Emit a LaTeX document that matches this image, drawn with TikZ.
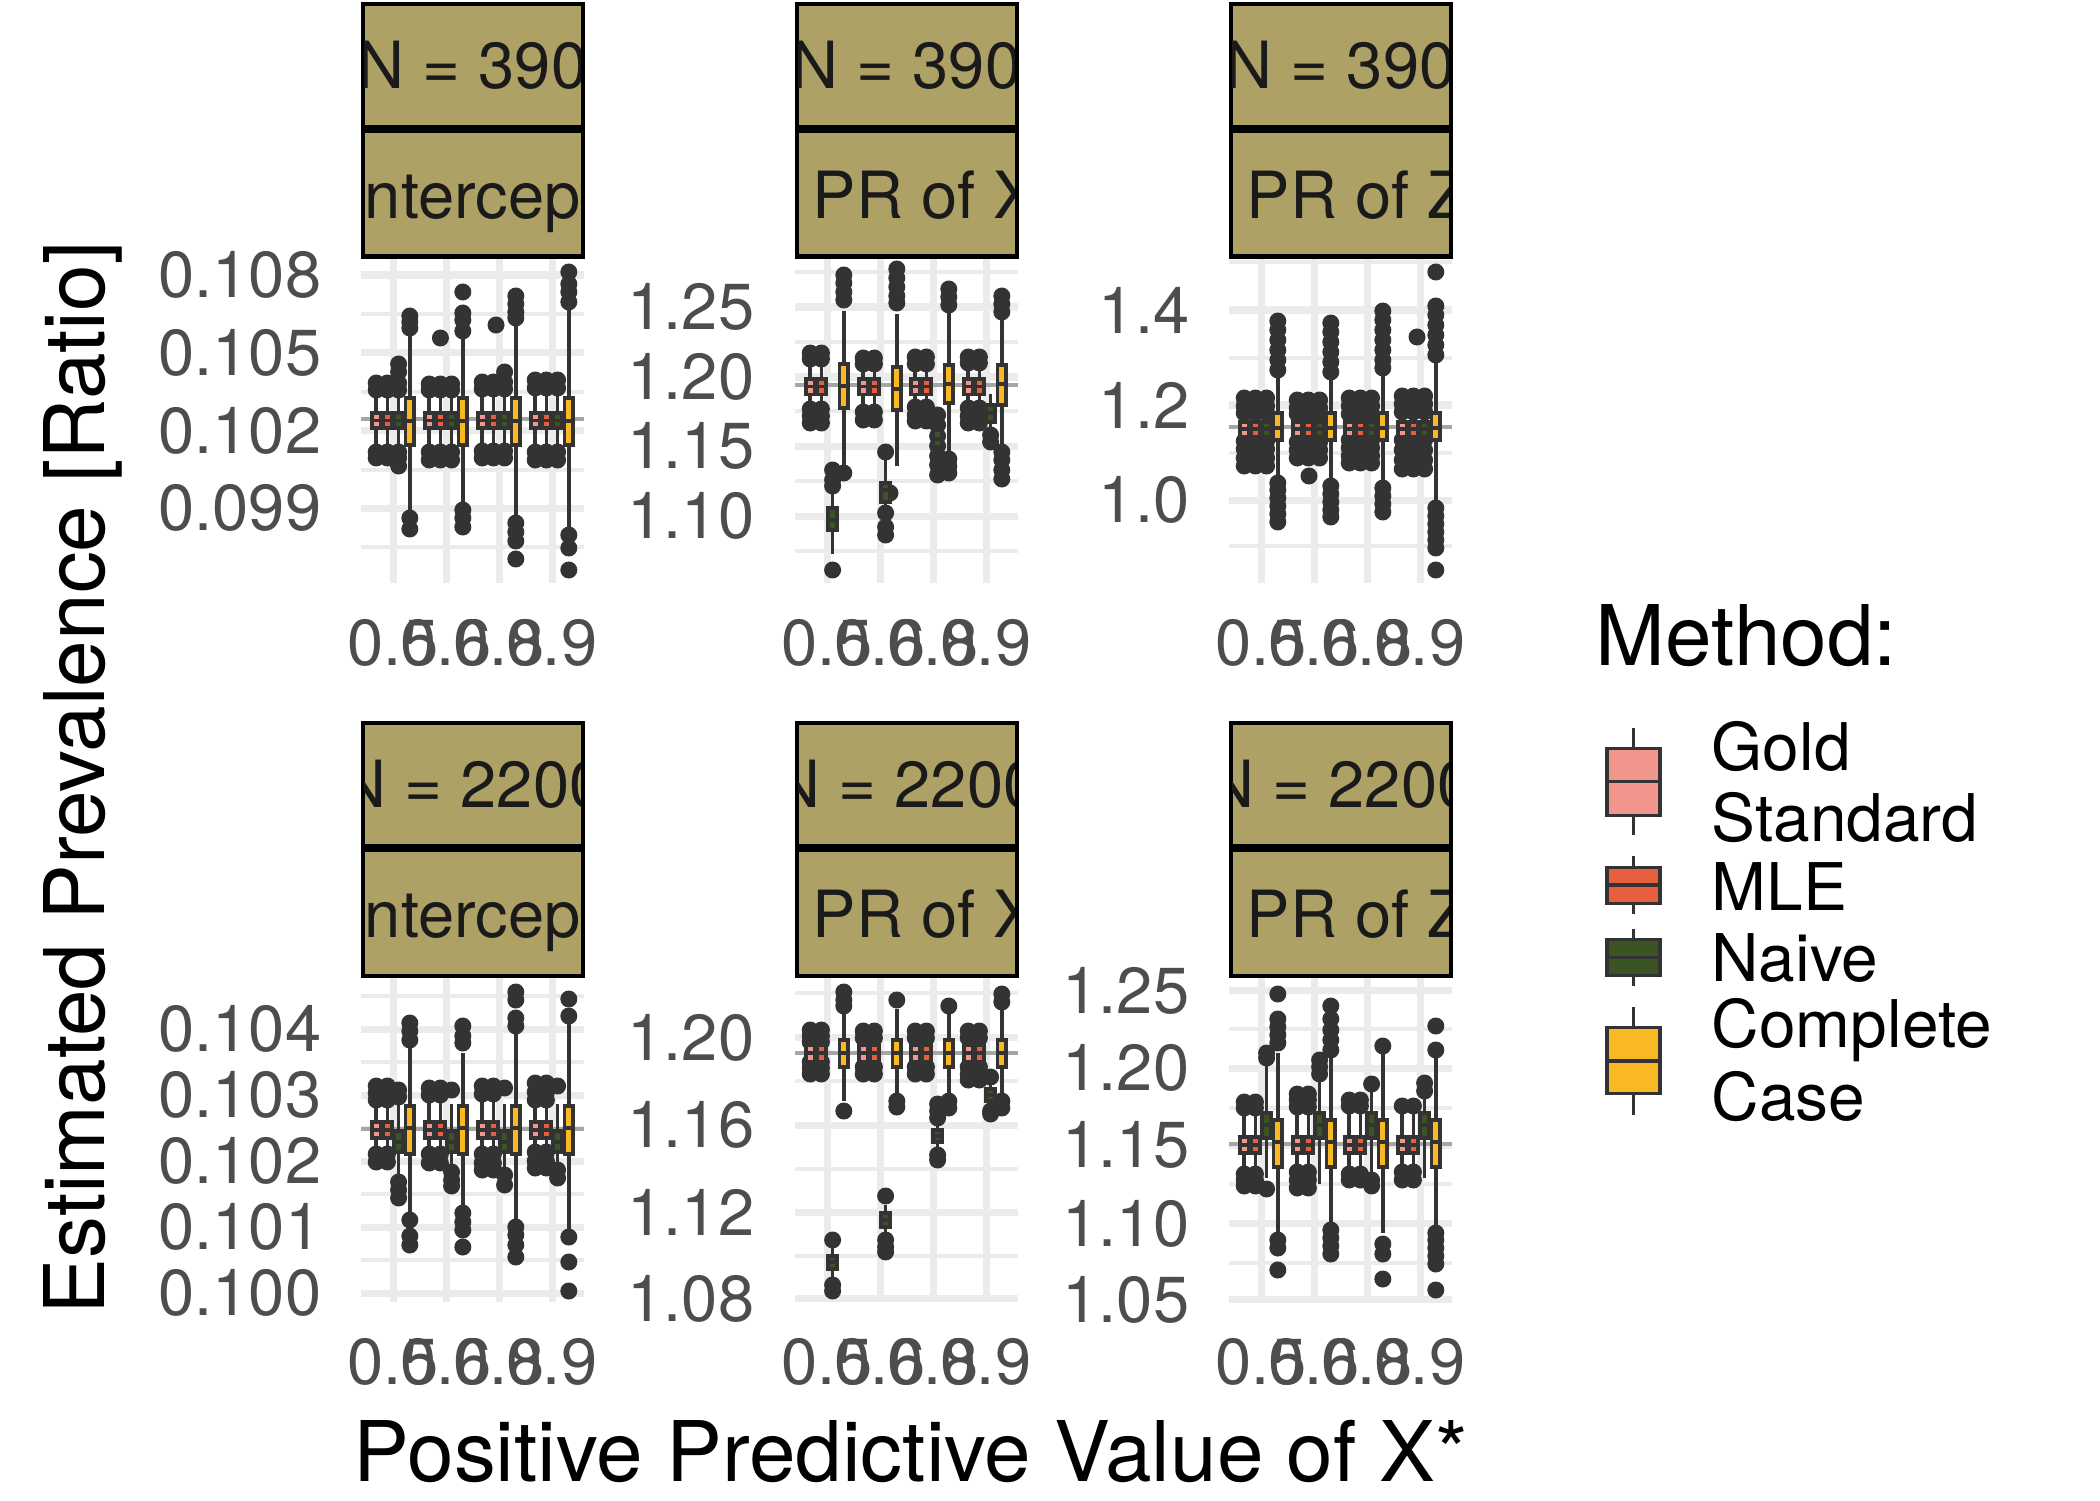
\documentclass[tikz,border=0pt]{standalone}
\usepackage{fontspec}
\setmainfont{TeX Gyre Heros}
\definecolor{stripfill}{HTML}{AEA165}
\definecolor{gridc}{HTML}{EBEBEB}
\definecolor{refc}{HTML}{A6A6A6}
\definecolor{darkc}{HTML}{333333}
\definecolor{tickc}{HTML}{4D4D4D}
\definecolor{stripc}{HTML}{1A1A1A}
\definecolor{gsc}{HTML}{F0968C}
\definecolor{mlec}{HTML}{E85F40}
\definecolor{nvc}{HTML}{3A5523}
\definecolor{ccc}{HTML}{FAB923}
\begin{document}
\begin{tikzpicture}[x=0.01cm,y=-0.01cm,
  major/.style={gridc,line width=0.07cm},
  minor/.style={gridc,line width=0.04cm},
  refline/.style={refc,line width=0.04cm},
  whisk/.style={darkc,line width=0.037cm},
  boxs/.style={draw=darkc,line width=0.037cm},
  outl/.style={fill=darkc},
  stripbox/.style={draw=black,line width=0.04cm,fill=stripfill},
  striplab/.style={text=stripc,inner sep=0,font=\fontsize{18.5}{18.5}\selectfont},
  ticklab/.style={text=tickc,inner sep=0,font=\fontsize{18.5}{18.5}\selectfont},
  keylab/.style={inner sep=0,anchor=base west,font=\fontsize{18.7}{18.7}\selectfont},
  title/.style={inner sep=0,anchor=base,font=\fontsize{23.8}{23.8}\selectfont}]
\def\W{4.3}
\def\bxp#1#2#3#4#5#6#7{
  \draw[whisk] (#2,#3) -- (#2,#7);
  \draw[boxs,fill=#1] (#2-\W,#4) rectangle (#2+\W,#6);
  \draw[boxs] (#2-\W,#5) -- (#2+\W,#5);}
\def\pts#1#2{\foreach \p in {#2} {\fill[outl] (#1,\p) circle[radius=0.085cm];}}
\def\trio#1#2{\foreach \dx in {-16.8,-5.6,5.6} {\pts{#1+\dx}{#2}}}
\def\duo#1#2{\foreach \dx in {-16.8,-5.6} {\pts{#1+\dx}{#2}}}
\def\grp#1#2#3#4{\foreach \dx/\fc/\wt/\qt/\md/\qb/\wb in {-16.8/gsc/#2,-5.6/mlec/#2,5.6/nvc/#3,16.8/ccc/#4}
  {\bxp{\fc}{#1+\dx}{\wt}{\qt}{\md}{\qb}{\wb}}}

\useasboundingbox (0,0) rectangle (2100,1500);

\foreach \L/\T/\mj/\mn in {
  361/258/{275,352.8,430.6,508.4}/{313.9,391.7,469.5,547.3},
  795/258/{307,377,446,516}/{272,342,411,481,551},
  1229/258/{310,405,500}/{262,358,452.5,546},
  361/977/{1029,1095,1161,1227,1293}/{996,1062,1128,1194,1260},
  795/977/{1037.5,1125,1212.5,1298.5}/{992.5,1081,1169,1256},
  1229/977/{990.5,1068,1145,1223.5,1299.5}/{1029,1108,1184,1263}} {
  \foreach \y in \mn {\draw[minor] (\L,\y) -- (\L+223,\y);}
  \foreach \y in \mj {\draw[major] (\L,\y) -- (\L+223,\y);}
  \foreach \k in {0,...,3} {\draw[major] (\L+32+53*\k,\T) -- (\L+32+53*\k,\T+325);}
}
\foreach \L/\r in {361/419,795/385,1229/427,361/1129,795/1053,1229/1144}
  {\draw[refline] (\L,\r) -- (\L+223,\r);}

\trio{393}{383,390,452,458}
\pts{398.6}{364,372,466}
\pts{409.8}{316,322,328,518,529}
\grp{393}{389/413/420.5/428/451}{389/413/420.5/428/451}{323/398/421/445/513}
\trio{446}{384,390,452,460}
\pts{440.4}{338}
\pts{462.8}{292,313,320,331,510,518,527}
\grp{446}{389/413/420.5/428/451}{389/413/420.5/428/451}{337/398/421/445/507}
\trio{499}{382,389,451,458}
\pts{504.6}{372}
\pts{496}{325}
\pts{515.8}{296,304,312,318,523,532,541,559}
\grp{499}{389/413/420.5/428/451}{389/413/420.5/428/451}{320/398/421/445/520}
\trio{552}{380,388,452,460}
\pts{568.8}{272,284,292,302,535,548,570}
\grp{552}{389/413/420.5/428/451}{389/413/420.5/428/451}{306/398/421/445/527}

\duo{827}{353,359,409,416,423}
\pts{832.6}{470,480,486,570}
\pts{843.8}{275,283,292,300,473}
\grp{827}{357/379/386.5/394.5/418}{466/508/520/530/554}{311/364/386/408/466}
\duo{880}{358,364,412,420}
\pts{885.6}{452,513,527,535}
\pts{890}{493}
\pts{896.8}{269,278,287,296,303}
\grp{880}{357/379/386.5/394.5/418}{459/483/490/502/527}{314/367/389/410/466}
\duo{932}{357,364,407,415,421}
\pts{937.6}{415,425,436,446,456,465,475}
\pts{948.8}{289,297,305,459,466,473}
\grp{932}{357/379/386.5/394.5/418}{408/430/439/447/459}{311/365/384/403/452}
\duo{985}{357,363,408,416,423}
\pts{990.6}{435,442}
\pts{1001.8}{296,304,312,452,460,470,479}
\grp{985}{357/379/386.5/394.5/418}{394/405/413/422/440}{320/365/384/405/445}

\trio{1261}{398,406,413,441,449,458,466}
\pts{1277.8}{321,330,340,350,360,370,483,490,498,506,514,522}
\grp{1261}{405/422/429/437/456}{405/422/429/437/456}{374/413/428/440/479}
\trio{1314}{400,408,414,442,450,458}
\pts{1309}{476}
\pts{1330.8}{323,332,342,352,362,372,486,494,502,510,517}
\grp{1314}{405/422/429/437/456}{405/422/429/437/456}{374/413/428/440/483}
\trio{1366}{398,406,414,440,448,456,463}
\pts{1382.8}{311,320,330,340,350,360,368,488,496,504,512}
\grp{1366}{405/422/429/437/456}{405/422/429/437/456}{371/413/428/440/483}
\trio{1419}{396,404,412,440,450,460,469}
\pts{1417}{337}
\pts{1435.8}{272,306,315,325,335,345,355,508,516,524,532,540,548,570}
\grp{1419}{405/422/429/437/456}{405/422/429/437/456}{360/413/428/440/503}

\duo{393}{1086,1093,1100,1154,1162}
\pts{398.6}{1090,1097,1182,1190,1198}
\pts{409.8}{1023,1031,1040,1220,1236,1245}
\grp{393}{1101/1122/1130/1138/1155}{1104/1131/1142/1152/1179}{1046/1106/1128/1154/1213}
\duo{446}{1088,1095,1154,1163}
\pts{451.6}{1090,1172,1180,1186}
\pts{462.8}{1026,1036,1043,1213,1222,1230,1247}
\grp{446}{1101/1122/1130/1138/1155}{1104/1131/1142/1152/1179}{1053/1106/1128/1154/1210}
\duo{499}{1086,1094,1154,1163,1170}
\pts{504.6}{1088,1175,1185}
\pts{515.8}{992,1000,1018,1026,1227,1235,1245,1257}
\grp{499}{1101/1122/1130/1138/1155}{1104/1131/1142/1152/1179}{1033/1106/1128/1154/1220}
\duo{552}{1083,1092,1100,1152,1161,1168}
\pts{557.6}{1086,1170,1178}
\pts{568.8}{999,1016,1237,1262,1291}
\grp{552}{1101/1122/1130/1138/1155}{1104/1131/1142/1152/1179}{1023/1106/1128/1154/1233}

\duo{827}{1030,1036,1042,1062,1068,1074}
\pts{832.6}{1240,1285,1291}
\pts{843.8}{992,1000,1006,1111}
\grp{827}{1035/1045/1053/1062/1071}{1247/1256/1262/1269/1281}{1012/1040/1053/1067/1101}
\duo{880}{1031,1038,1067,1074}
\pts{885.6}{1196,1240,1247,1252}
\pts{896.8}{1000,1101,1107}
\grp{880}{1035/1045/1053/1062/1071}{1205/1213/1220/1227/1235}{1009/1040/1053/1067/1094}
\duo{932}{1031,1038,1067,1074}
\pts{937.6}{1104,1111,1118,1155,1160}
\pts{948.8}{1006,1101,1108}
\grp{932}{1035/1045/1053/1062/1071}{1118/1130/1136/1142/1152}{1012/1040/1053/1067/1097}
\duo{985}{1031,1038,1067,1074,1080}
\pts{990.6}{1077,1111,1114}
\pts{1001.8}{994,1002,1101,1108}
\grp{985}{1035/1045/1053/1062/1071}{1083/1089/1095/1101/1108}{1009/1040/1053/1067/1097}

\duo{1261}{1102,1108,1174,1180,1186}
\pts{1266.6}{1053,1058,1189}
\pts{1277.8}{994,1019,1027,1035,1043,1240,1248,1270}
\grp{1261}{1111/1137/1145/1153/1176}{1060/1113/1125/1138/1178}{1053/1120/1142/1167/1233}
\duo{1314}{1094,1100,1107,1172,1180,1188}
\pts{1319.6}{1060,1067,1074}
\pts{1330.8}{1006,1019,1030,1040,1050,1230,1238,1246,1254}
\grp{1314}{1111/1137/1145/1153/1176}{1074/1113/1125/1138/1184}{1053/1120/1142/1167/1227}
\duo{1366}{1100,1106,1174,1180}
\pts{1371.6}{1084,1180,1186}
\pts{1382.8}{1046,1244,1254,1279}
\grp{1366}{1111/1137/1145/1153/1176}{1084/1113/1125/1138/1178}{1046/1120/1142/1167/1233}
\duo{1419}{1106,1172,1180}
\pts{1424.6}{1083,1091}
\pts{1435.8}{1026,1050,1233,1240,1248,1256,1264,1290}
\grp{1419}{1111/1137/1145/1153/1176}{1091/1113/1125/1138/1178}{1053/1120/1142/1167/1230}

\foreach \r/\n in {0/390,719/2200} {
  \foreach \L/\lab/\lx/\la in {361/Intercept/472.5/base,795/PR of X/812/base west,1229/PR of Z/1246/base west} {
    \draw[stripbox] (\L+1.5,4+\r) rectangle (\L+221.5,127+\r);
    \draw[stripbox] (\L+1.5,131+\r) rectangle (\L+221.5,256.5+\r);
    \begin{scope}
      \clip (\L+3.5,6+\r) rectangle (\L+219.5,254.5+\r);
      \node[striplab,anchor=base] (N\L-\r) at (\L+111.5,88.5+\r) {N = \n};
      \node[striplab,anchor=\la] (P\L-\r) at (\lx,218.5+\r) {\lab};
    \end{scope}
  }
}

\foreach \x/\y/\t [count=\k] in {322/275/0.108,322/352.8/0.105,322/430.6/0.102,322/508.4/0.099,
  755/307/1.25,755/377/1.20,755/446/1.15,755/516/1.10,
  1190/310/1.4,1190/405/1.2,1190/500/1.0,
  322/1029/0.104,322/1095/0.103,322/1161/0.102,322/1227/0.101,322/1293/0.100,
  755/1037.5/1.20,755/1125/1.16,755/1212.5/1.12,755/1298.5/1.08,
  1190/990.5/1.25,1190/1068/1.20,1190/1145/1.15,1190/1223.5/1.10,1190/1299.5/1.05}
  {\node[ticklab,anchor=east] (yt\k) at (\x,\y) {\t};}
\foreach \L in {361,795,1229} {
  \foreach \r in {665,1384} {
    \foreach \k/\t in {0/0.5,1/0.6,2/0.8,3/0.9}
      {\node[ticklab,anchor=base] (xt\L-\r-\k) at (\L+32+53*\k,\r) {\t};}
  }
}

\node[title,rotate=90] (ytitle) at (104,778) {Estimated Prevalence [Ratio]};
\node[title] (xtitle) at (911,1481) {Positive Predictive Value of X*};

\node[title,anchor=base west] (ltitle) at (1595,665) {Method:};
\foreach \f/\wt/\qt/\md/\qb/\wb in {gsc/728/748.5/781.5/815.5/835,mlec/856/867.5/885/903.5/914,
  nvc/929/939.5/957.6/975.5/986,ccc/1007/1027.5/1061/1093.5/1114.5} {
  \draw[whisk] (1633.5,\wt) -- (1633.5,\wb);
  \draw[boxs,fill=\f] (1607,\qt) rectangle (1660,\qb);
  \draw[boxs] (1607,\md) -- (1660,\md);
}
\node[keylab] (lgs1) at (1711,770) {Gold};
\node[keylab] (lgs2) at (1711,841.6) {Standard};
\node[keylab] (lmle) at (1711,910) {MLE};
\node[keylab] (lnv) at (1711,981.7) {Naive};
\node[keylab] (lcc1) at (1711,1047.5) {Complete};
\node[keylab] (lcc2) at (1711,1120) {Case};
\end{tikzpicture}
\end{document}
